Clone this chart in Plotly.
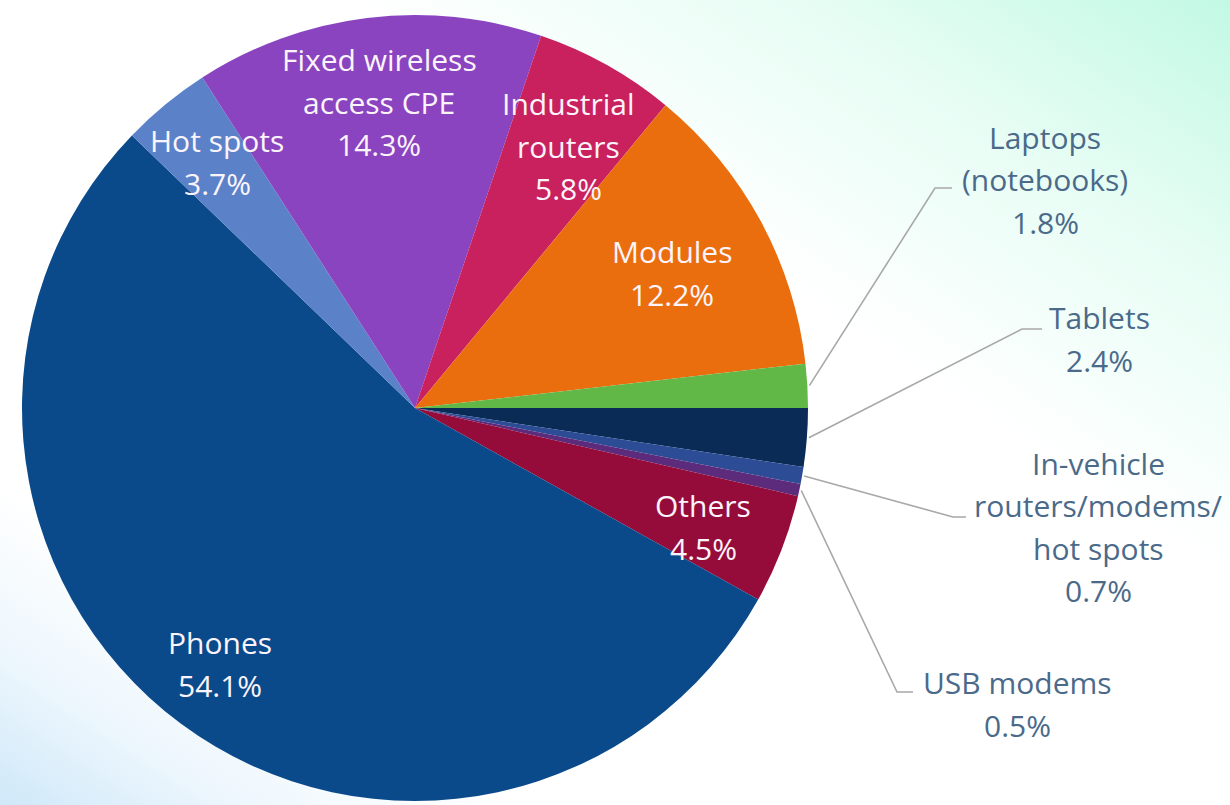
import base64
import math
import plotly.graph_objects as go

# ---------------- data ----------------
categories = ["Tablets", "In-vehicle routers/modems/hot spots", "USB modems", "Others",
              "Phones", "Hot spots", "Fixed wireless access CPE", "Industrial routers",
              "Modules", "Laptops (notebooks)"]
shares = [2.4, 0.7, 0.5, 4.5, 54.1, 3.7, 14.3, 5.8, 12.2, 1.8]
label_lines = [["Tablets"], ["In-vehicle", "routers/modems/", "hot spots"], ["USB modems"],
               ["Others"], ["Phones"], ["Hot spots"], ["Fixed wireless", "access CPE"],
               ["Industrial", "routers"], ["Modules"], ["Laptops", "(notebooks)"]]
slice_colors = ["#0a2b55", "#2c4d95", "#5c2b7c", "#950c3a", "#0b4a8a",
                "#5b82c8", "#8a44bf", "#c9215d", "#ea6e0e", "#62b847"]

# ---------------- layout constants ----------------
W, H = 1230, 805
CX, CY, R = 415, 408, 393
LINE_H = 42.5
FONT = "Open Sans"
INSIDE_COLOR = "#fbf4fb"
OUTSIDE_COLOR = "#4b6a8a"
LEADER_COLOR = "#a8a8a8"

# label centres (pixels) and, for outside labels, leader elbow/end points
label_pos = {
    "Tablets": (1099, 339),
    "In-vehicle routers/modems/hot spots": (1098, 527),
    "USB modems": (1017, 704),
    "Others": (703, 527),
    "Phones": (220, 664),
    "Hot spots": (217, 162),
    "Fixed wireless access CPE": (379, 102),
    "Industrial routers": (568, 146),
    "Modules": (672, 273),
    "Laptops (notebooks)": (1045, 180),
}
leaders = {
    "Tablets": ((1022, 329), (1042, 329)),
    "In-vehicle routers/modems/hot spots": ((953, 517), (966, 517)),
    "USB modems": ((897, 692), (913, 692)),
    "Laptops (notebooks)": ((935, 188), (952, 188)),
}
outside = set(leaders.keys())


def px(x):
    return x / W


def py(y):
    return 1 - y / H


fig = go.Figure()

fig.add_trace(go.Pie(
    labels=categories,
    values=shares,
    sort=False,
    direction="clockwise",
    rotation=90,
    marker=dict(colors=slice_colors, line=dict(width=0)),
    textinfo="none",
    hoverinfo="label+percent",
    showlegend=False,
    domain=dict(x=[(CX - R) / W, (CX + R) / W], y=[1 - (CY + R) / H, 1 - (CY - R) / H]),
))

annotations = []
shapes = []
total = sum(shares)
cum = 0.0
for cat, val, lines in zip(categories, shares, label_lines):
    mid = cum + val / 2
    cum += val
    all_lines = lines + [f"{val:.1f}%"]
    lx, ly = label_pos[cat]
    n = len(all_lines)
    color = OUTSIDE_COLOR if cat in outside else INSIDE_COLOR
    for i, t in enumerate(all_lines):
        yy = ly + (i - (n - 1) / 2) * LINE_H
        annotations.append(dict(
            x=px(lx), y=py(yy), xref="paper", yref="paper",
            text=t, showarrow=False, xanchor="center", yanchor="middle",
            font=dict(family=FONT, size=30, color=color),
        ))
    if cat in leaders:
        theta = -mid / total * 2 * math.pi
        sx = CX + (R + 2) * math.cos(theta)
        sy = CY - (R + 2) * math.sin(theta)
        (ex, ey), (fx, fy) = leaders[cat]
        shapes.append(dict(type="path", xref="paper", yref="paper",
                           path=f"M {px(sx)},{py(sy)} L {px(ex)},{py(ey)} L {px(fx)},{py(fy)}",
                           line=dict(color=LEADER_COLOR, width=1.6)))

# soft diagonal background gradient (teal top-right, light blue bottom-left)
svg = f"""<svg xmlns='http://www.w3.org/2000/svg' width='{W}' height='{H}' viewBox='0 0 {W} {H}' preserveAspectRatio='none'>
<defs><linearGradient id='g' x1='1' y1='0' x2='0' y2='1'>
<stop offset='0' stop-color='#c2f9e4'/>
<stop offset='0.17' stop-color='#e6fdf4'/>
<stop offset='0.36' stop-color='#ffffff'/>
<stop offset='0.8' stop-color='#ffffff'/>
<stop offset='0.9' stop-color='#eef7fd'/>
<stop offset='1' stop-color='#cfe8f9'/>
</linearGradient></defs>
<rect x='0' y='0' width='{W}' height='{H}' fill='url(#g)'/>
</svg>"""
src = "data:image/svg+xml;base64," + base64.b64encode(svg.encode()).decode()

fig.update_layout(
    width=W, height=H,
    margin=dict(l=0, r=0, t=0, b=0),
    paper_bgcolor="white",
    plot_bgcolor="rgba(0,0,0,0)",
    annotations=annotations,
    shapes=shapes,
    images=[dict(source=src, xref="paper", yref="paper", x=0, y=1, sizex=1, sizey=1,
                 sizing="stretch", xanchor="left", yanchor="top", layer="below")],
)

fig.write_html("out.html", config={"displayModeBar": False},
               post_script="document.body.style.margin='0';")
